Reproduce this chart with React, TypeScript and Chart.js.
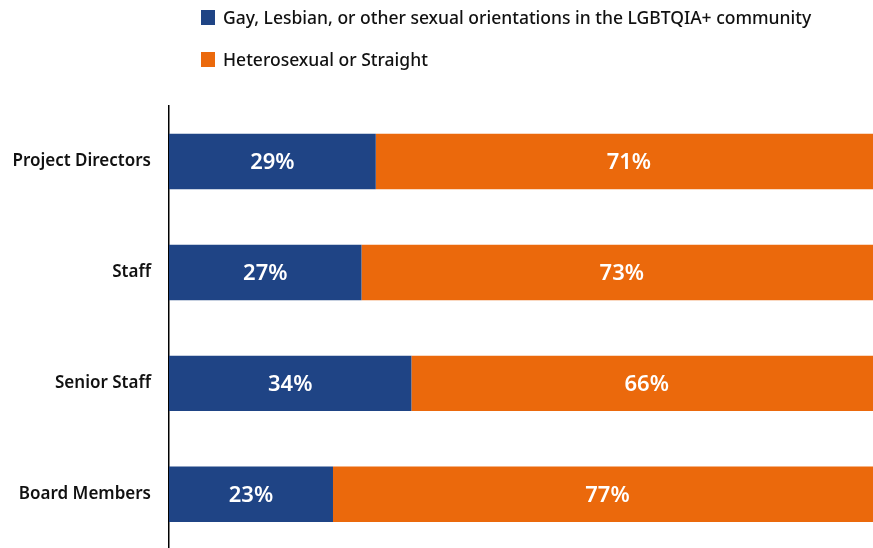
import React, { useEffect, useRef } from "react";
import { Chart, registerables } from "chart.js";

Chart.register(...registerables);

const categories = ["Project Directors", "Staff", "Senior Staff", "Board Members"];
const lgbtqValues = [29, 27, 34, 23];
const straightValues = [71, 73, 66, 77];
const seriesNames = [
  "Gay, Lesbian, or other sexual orientations in the LGBTQIA+ community",
  "Heterosexual or Straight",
];
const colors = ["#1f4485", "#eb690c"];

const FONT = "'Noto Sans', Roboto, sans-serif";

const valueLabels = {
  id: "valueLabels",
  afterDatasetsDraw(chart: any) {
    const ctx = chart.ctx;
    ctx.save();
    ctx.fillStyle = "#ffffff";
    ctx.font = `600 22px ${FONT}`;
    ctx.textAlign = "center";
    ctx.textBaseline = "middle";
    chart.data.datasets.forEach((ds: any, i: number) => {
      const meta = chart.getDatasetMeta(i);
      meta.data.forEach((el: any, j: number) => {
        const p = el.getCenterPoint();
        ctx.fillText(`${ds.data[j]}%`, p.x, p.y + 1);
      });
    });
    ctx.restore();
  },
};

export default function App() {
  const ref = useRef<HTMLCanvasElement | null>(null);
  useEffect(() => {
    if (!ref.current) return;
    const chart = new Chart(ref.current, {
      type: "bar",
      data: {
        labels: categories,
        datasets: [
          { label: seriesNames[0], data: lgbtqValues, backgroundColor: colors[0], barPercentage: 0.5, categoryPercentage: 1 },
          { label: seriesNames[1], data: straightValues, backgroundColor: colors[1], barPercentage: 0.5, categoryPercentage: 1 },
        ],
      },
      options: {
        indexAxis: "y",
        responsive: true,
        maintainAspectRatio: false,
        animation: false,
        devicePixelRatio: 1,
        layout: { padding: { top: 106, bottom: 0, left: 0, right: 0 } },
        plugins: { legend: { display: false }, tooltip: { enabled: false } },
        scales: {
          x: { stacked: true, min: 0, max: 100, display: false },
          y: {
            stacked: true,
            grid: { display: false, drawTicks: false },
            border: { display: true, color: "#000000", width: 1.5 },
            ticks: { color: "#111111", font: { family: FONT, size: 17, weight: "600" }, padding: 18 },
            afterFit: (scale: any) => {
              scale.width = 169;
            },
          },
        },
      } as any,
      plugins: [valueLabels],
    });
    return () => chart.destroy();
  }, []);

  const legendRow = (i: number, top: number) => (
    <div style={{ position: "absolute", left: 201, top, display: "flex", alignItems: "center", height: 18 }}>
      <div style={{ width: 14, height: 15, background: colors[i], marginRight: 8 }} />
      <span style={{ fontFamily: FONT, fontWeight: 500, fontSize: 17.5, color: "#111111", whiteSpace: "nowrap" }}>
        {seriesNames[i]}
      </span>
    </div>
  );

  return (
    <div style={{ position: "fixed", left: 0, top: 0, width: 873, height: 548, overflow: "hidden", background: "#fff" }}>
      <div style={{ position: "absolute", left: 0, top: 0, width: 882, height: 578 }}>
        <canvas ref={ref} />
      </div>
      {legendRow(0, 8)}
      {legendRow(1, 50)}
    </div>
  );
}
